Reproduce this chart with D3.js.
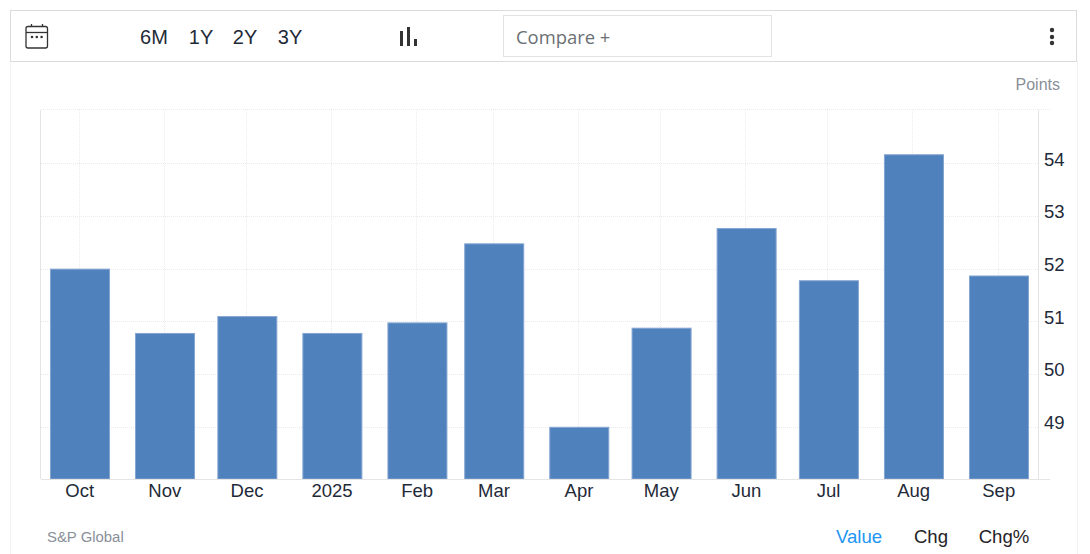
<!DOCTYPE html>
<html><head><meta charset="utf-8">
<script src="https://cdn.jsdelivr.net/npm/d3@7"></script>
<style>
html,body{margin:0;padding:0;background:#fff;overflow:hidden}
svg{display:block}
text{font-family:"Liberation Sans",Arial,sans-serif}
</style></head><body>
<svg id="c" width="1090" height="554"></svg>
<script>
const months=["2024-10-01","2024-11-01","2024-12-01","2025-01-01","2025-02-01","2025-03-01","2025-04-01","2025-05-01","2025-06-01","2025-07-01","2025-08-01","2025-09-01"];
const tickLabels=["Oct","Nov","Dec","2025","Feb","Mar","Apr","May","Jun","Jul","Aug","Sep"];
const values=[52.0,50.78,51.1,50.78,50.98,52.48,49.0,50.88,52.77,51.78,54.17,51.87];
const yTicks=[49,50,51,52,53,54];
const ranges=["6M","1Y","2Y","3Y"];
const rangeX=[154,201,245,290];
const footer=["Value","Chg","Chg%"];
const footerX=[859,931,1004];
const footerColors=["#2196f3","#1f2328","#1f2328"];

const svg=d3.select("#c");
const dates=months.map(d=>new Date(d+"T00:00:00Z"));
const x=d3.scaleUtc().domain([dates[0],dates[11]]).range([80,999]);
const y=d3.scaleLinear().domain([48,55]).range([480,111]);
const barW=59;
const plotBottom=479, plotTop=110;

// card outline
svg.append("line").attr("x1",10.5).attr("x2",10.5).attr("y1",61).attr("y2",554).attr("stroke","#f2f2f2");
svg.append("line").attr("x1",1077.5).attr("x2",1077.5).attr("y1",61).attr("y2",554).attr("stroke","#f2f2f2");
svg.append("rect").attr("x",10.5).attr("y",10.5).attr("width",1066).attr("height",51).attr("fill","#fff").attr("stroke","#dcdcdc");

// toolbar
const cal=svg.append("g").attr("fill","none").attr("stroke","#333").attr("stroke-width",1.3);
cal.append("rect").attr("x",26).attr("y",26.5).attr("width",21.5).attr("height",21.5).attr("rx",2);
cal.append("line").attr("x1",26).attr("x2",47.5).attr("y1",32.5).attr("y2",32.5);
cal.append("line").attr("x1",31.5).attr("x2",31.5).attr("y1",24).attr("y2",26.5);
cal.append("line").attr("x1",42.5).attr("x2",42.5).attr("y1",24).attr("y2",26.5);
svg.append("g").attr("fill","#333").selectAll("circle").data([32,36.8,41.6]).join("circle")
  .attr("cx",d=>d).attr("cy",37).attr("r",1.3);
svg.append("g").selectAll("text").data(ranges).join("text")
  .attr("x",(d,i)=>rangeX[i]).attr("y",44).attr("text-anchor","middle")
  .attr("font-size",20).attr("fill","#1f2a38").text(d=>d);
svg.append("g").attr("fill","#333").selectAll("rect").data([[400,31,3,15],[407,27,3,19],[414,39,3,7]]).join("rect")
  .attr("x",d=>d[0]).attr("y",d=>d[1]).attr("width",d=>d[2]).attr("height",d=>d[3]);
svg.append("rect").attr("x",503.5).attr("y",15.5).attr("width",268).attr("height",41).attr("fill","#fff").attr("stroke","#e3e3e3");
svg.append("text").attr("x",516).attr("y",44).attr("font-size",18.4).attr("fill","#6b7074")
  .style("font-family","'Open Sans',sans-serif").text("Compare +");
svg.append("g").attr("fill","#333").selectAll("circle").data([30,37,43]).join("circle")
  .attr("cx",1052).attr("cy",d=>d).attr("r",2.2);

svg.append("text").attr("x",1060).attr("y",90).attr("text-anchor","end").attr("font-size",16).attr("fill","#8a8f99").text("Points");

// grid
const grid=svg.append("g").attr("stroke","#ebebeb").attr("stroke-dasharray","1 1").attr("fill","none");
grid.selectAll(".v").data(dates).join("line").attr("class","v")
  .attr("x1",d=>Math.floor(x(d))-.5).attr("x2",d=>Math.floor(x(d))-.5).attr("y1",plotTop).attr("y2",plotBottom);
grid.selectAll(".h").data(yTicks).join("line").attr("class","h")
  .attr("x1",41).attr("x2",1038).attr("y1",d=>Math.floor(y(d))+.5).attr("y2",d=>Math.floor(y(d))+.5);
grid.append("line").attr("x1",41).attr("x2",1050).attr("y1",plotTop-.5).attr("y2",plotTop-.5);

// bars
svg.append("g").selectAll("rect").data(values).join("rect")
  .attr("x",(d,i)=>x(dates[i])-barW/2).attr("width",barW)
  .attr("y",d=>y(d)).attr("height",d=>plotBottom-y(d))
  .attr("fill","#4f81bd").attr("stroke","#85a5d2").attr("stroke-width",1);

// axes
const xAxis=d3.axisBottom(x).tickValues(dates).tickSize(0).tickPadding(4.5)
  .tickFormat((d,i)=>tickLabels[i]);
const gx=svg.append("g").attr("transform","translate(-0.8,479.5)").call(xAxis);
gx.select(".domain").remove();
gx.selectAll("text").attr("font-size",18.5).attr("fill","#1f2a38").style("font-family","'Liberation Sans',Arial,sans-serif");
svg.append("line").attr("x1",41).attr("x2",1050).attr("y1",479.5).attr("y2",479.5).attr("stroke","#e4e4e4");

const yAxis=d3.axisRight(y).tickValues(yTicks).tickSize(0).tickPadding(6).tickFormat(d3.format("d"));
const gy=svg.append("g").attr("transform","translate(1038,-4.5)").call(yAxis);
gy.select(".domain").remove();
gy.selectAll("text").attr("font-size",18.5).attr("fill","#1f2a38").style("font-family","'Liberation Sans',Arial,sans-serif");
svg.append("line").attr("x1",1038.5).attr("x2",1038.5).attr("y1",plotTop).attr("y2",plotBottom).attr("stroke","#e4e4e4");
svg.append("line").attr("x1",40.5).attr("x2",40.5).attr("y1",plotTop).attr("y2",plotBottom).attr("stroke","#e4e4e4");

// footer
svg.append("text").attr("x",47).attr("y",542).attr("font-size",14.9).attr("fill","#8a8f99").text("S&P Global");
svg.append("g").selectAll("text").data(footer).join("text")
  .attr("x",(d,i)=>footerX[i]).attr("y",543).attr("text-anchor","middle")
  .attr("font-size",18.6).attr("fill",(d,i)=>footerColors[i]).text(d=>d);
</script></body></html>
